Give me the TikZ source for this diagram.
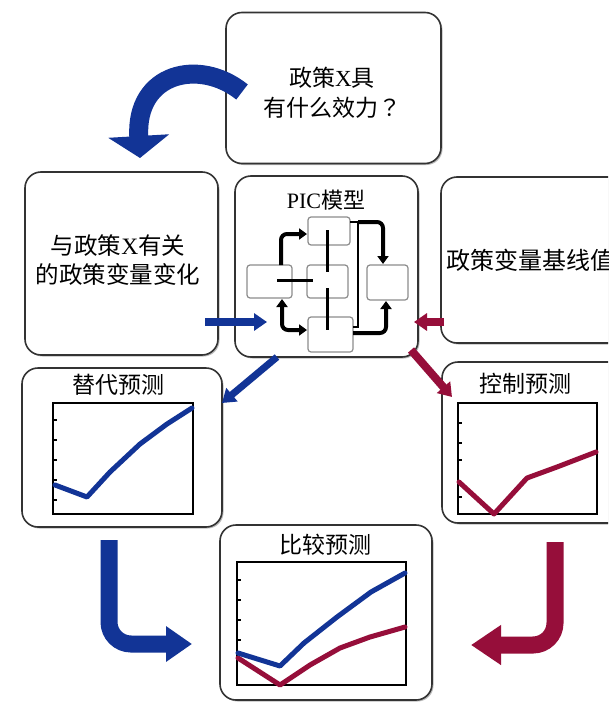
\documentclass[tikz,border=0pt]{standalone}
\usepackage{fontspec}
\setmainfont{Liberation Serif}
\newfontfamily\cjk{Noto Sans CJK SC}
\newfontfamily\cjktc{Noto Sans CJK TC}
\usetikzlibrary{arrows.meta,shadows}
\definecolor{pblue}{RGB}{18,52,150}
\definecolor{pred}{RGB}{150,14,58}
\tikzset{
  panel/.style={draw=black!80, line width=1.6pt, rounded corners=16pt, fill=white, inner sep=0pt,
    drop shadow={shadow xshift=1.5pt, shadow yshift=-1.5pt, opacity=0.45, fill=black!60}},
  mini/.style={draw=black!45, line width=1.2pt, rounded corners=3pt, fill=white, inner sep=0pt},
  lbl/.style={font=\fontsize{23.5}{29}\selectfont, inner sep=0pt, align=center},
  ttl/.style={font=\fontsize{23}{26}\selectfont, inner sep=0pt},
  chartframe/.style={draw=black, line width=2.6pt},
  tick/.style={draw=black, line width=1.6pt},
  bdata/.style={draw=pblue, line width=5pt, line join=round, line cap=round},
  rdata/.style={draw=pred, line width=5pt, line join=round, line cap=round},
  flowline/.style={line width=4pt, rounded corners=6pt, -{Triangle[width=11pt,length=8pt]}},
  thinline/.style={line width=2pt},
  smallblue/.style={draw=pblue, line width=8pt, -{Triangle[width=17pt,length=13pt]}},
  smallred/.style={draw=pred, line width=8pt, -{Triangle[width=17pt,length=13pt]}},
}
\begin{document}
\begin{tikzpicture}[x=1pt,y=-1pt]
\useasboundingbox (0,0) rectangle (608,704);
\fill[white] (0,0) rectangle (608,704);
\clip (0,0) rectangle (608,704);

% panels
\node[panel, minimum width=215pt, minimum height=151pt] (top) at (333.5,88) {};
\node[panel, minimum width=193pt, minimum height=183pt] (left) at (121.5,263.5) {};
\node[panel, minimum width=183pt, minimum height=181pt] (pic) at (326.5,266.5) {};
\node[panel, minimum width=199pt, minimum height=166pt] (base) at (540.5,260) {};
\node[panel, minimum width=200pt, minimum height=159pt] (alt) at (122,447.5) {};
\node[panel, minimum width=198pt, minimum height=161pt] (ctrl) at (541,442.5) {};
\node[panel, minimum width=212pt, minimum height=175pt] (cmp) at (326,612.5) {};

% texts
\node[lbl, font=\fontsize{23}{30}\selectfont] (topt) at (332,93) {{\cjk 政策}X{\cjk 具}\\{\cjk 有什么效力}{\cjktc ？}};
\node[lbl] (leftt) at (118,260) {{\cjk 与政策}X{\cjk 有关}\\{\cjk 的政策变量变化}};
\node[lbl, anchor=west, font=\fontsize{24}{29}\selectfont] (baset) at (446,260) {\cjk 政策变量基线值};
\node[ttl, font=\fontsize{22}{26}\selectfont] (pict) at (326,200) {PIC{\cjk 模型}};
\node[ttl] (altt) at (118,385) {\cjk 替代预测};
\node[ttl] (ctrlt) at (525,384) {\cjk 控制预测};
\node[ttl] (cmpt) at (325,545) {\cjk 比较预测};

% PIC model pictogram
\node[mini, minimum width=42pt, minimum height=28pt] (m1) at (329,231) {};
\node[mini, minimum width=45pt, minimum height=33pt] (m2) at (269.5,281.5) {};
\node[mini, minimum width=41pt, minimum height=33pt] (m3) at (327.5,281.5) {};
\node[mini, minimum width=41pt, minimum height=35pt] (m4) at (387.5,282.5) {};
\node[mini, minimum width=45pt, minimum height=35pt] (m5) at (330.5,334.5) {};
\draw[line width=3pt] (277,280) -- (313,280);
\draw[line width=3pt] (327,230) -- (327,272);
\draw[line width=3pt] (327,288) -- (327,330);
\draw[thinline] (350,222) -- (358,222) -- (358,327) -- (353,327);
\draw[flowline] (281,265) |- (307,234);
\draw[flowline, {Triangle[width=11pt,length=8pt]}-{Triangle[width=11pt,length=8pt]}] (282,299) |- (307,330);
\draw[flowline] (358,222) -| (383,264);
\draw[flowline] (353,333) -| (386,301);

% charts
\draw[chartframe] (53,403) rectangle (193,514);
\foreach \t in {420,440,460,480,500} \draw[tick] (53,\t) -- (57,\t);
\draw[bdata] (55,485) -- (87,497) -- (110,472) -- (140,444) -- (167,424) -- (192,408);

\draw[chartframe] (458,403) rectangle (597,514);
\foreach \t in {423,443,460,497} \draw[tick] (458,\t) -- (462,\t);
\draw[rdata] (459,482) -- (494,514) -- (527,478) -- (557,467) -- (596,452);

\draw[chartframe] (237,562) rectangle (406,685);
\foreach \t in {580,600,620,640,660} \draw[tick] (237,\t) -- (241,\t);
\draw[rdata] (238,658) -- (280,685) -- (310,665) -- (340,648) -- (370,637) -- (405,627);
\draw[bdata] (238,653) -- (280,666) -- (304,643) -- (337,617) -- (371,592) -- (405,573);

% big arrows
\coordinate (ca1) at (242,92);
\coordinate (ca2) at (140,158);
\draw[pblue, line width=19pt, -{Triangle[width=60pt,length=22pt]}] (ca1) .. controls (200,58) and (135,72) .. (ca2);

\coordinate (la1) at (109,540);
\coordinate (la2) at (192,644);
\draw[pblue, line width=17pt, rounded corners=22pt, -{Triangle[width=34pt,length=26pt]}] (la1) |- (la2);

\coordinate (ja1) at (555,542);
\coordinate (ja2) at (471,645);
\draw[pred, line width=17pt, rounded corners=22pt, -{Triangle[width=38pt,length=30pt]}] (ja1) |- (ja2);

% small arrows
\coordinate (s1) at (205,322);
\coordinate (s2) at (267,322);
\draw[smallblue] (s1) -- (s2);
\coordinate (s3) at (277,357);
\coordinate (s4) at (222,403);
\draw[smallblue, line width=7pt] (s3) -- (s4);
\coordinate (s5) at (444,322);
\coordinate (s6) at (414,322);
\draw[smallred] (s5) -- (s6);
\coordinate (s7) at (411,350);
\coordinate (s8) at (452,397);
\draw[smallred] (s7) -- (s8);
\end{tikzpicture}
\end{document}
